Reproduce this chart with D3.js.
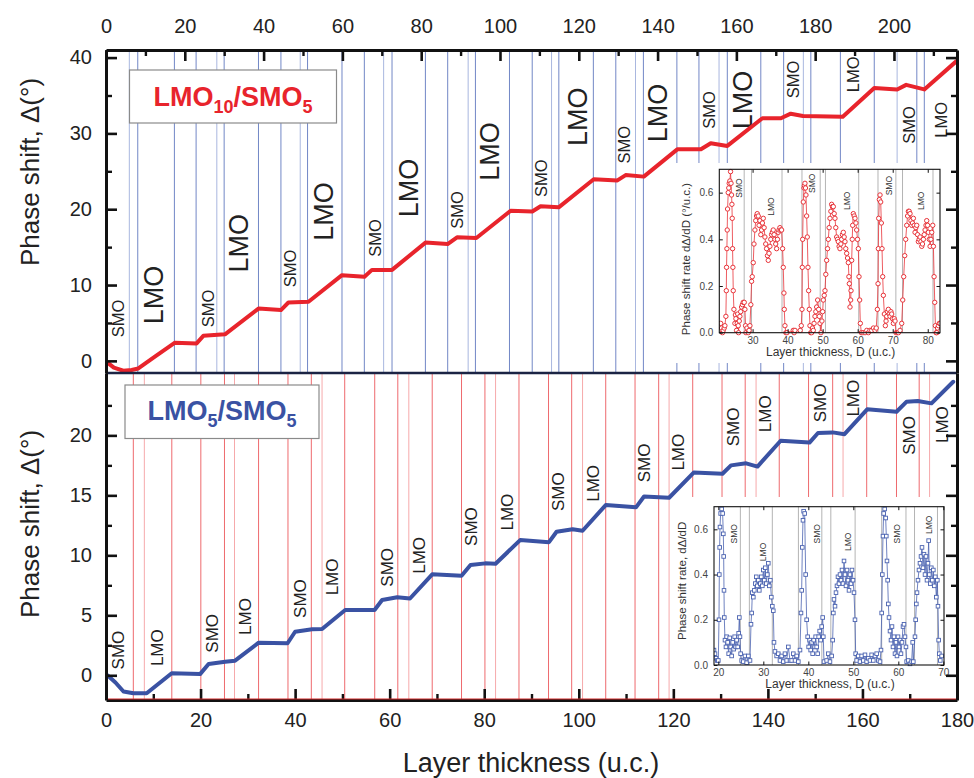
<!DOCTYPE html>
<html>
<head>
<meta charset="utf-8">
<script src="https://cdn.jsdelivr.net/npm/d3@7"></script>
<style>
  body { margin: 0; background: #fff; }
</style>
</head>
<body>
<div id="chart"></div>
<script>
const FONT = "'Liberation Sans', Arial, Helvetica, sans-serif";

// ---- main panels: phase shift vs. layer thickness ----
// top panel, LMO10/SMO5 (top axis units)
const topCurve = [
  [0.3, -0.2], [2.0, -0.9], [4.4, -1.3], [6.5, -1.2], [8.2, -1.0], [12.5, 0.6], [17.5, 2.4],
  [23.0, 2.3], [24.7, 3.3], [30.2, 3.5], [38.7, 6.9], [44.4, 6.7], [46.3, 7.7], [51.4, 7.8],
  [59.9, 11.3], [65.6, 11.1], [67.5, 12.0], [72.6, 12.0], [81.1, 15.6], [86.7, 15.4],
  [89.1, 16.3], [94.0, 16.2], [102.7, 19.8], [108.2, 19.7], [110.3, 20.4], [114.9, 20.25],
  [123.8, 23.95], [129.8, 23.8], [131.9, 24.5], [136.5, 24.3], [145.0, 27.9], [151.0, 27.9],
  [153.5, 28.7], [157.7, 28.35], [166.6, 32.0], [171.3, 32.0], [173.8, 32.6], [176.9, 32.3],
  [187.0, 32.2], [195.0, 36.0], [200.8, 35.8], [203.1, 36.4], [207.7, 35.8], [215.8, 39.5]
];
// bottom panel, LMO5/SMO5
const bottomCurve = [
  [0.3, 0.0], [2.0, -0.6], [3.7, -1.35], [5.8, -1.5], [8.6, -1.5], [13.9, 0.17], [19.9, 0.1],
  [21.7, 0.94], [25.2, 1.13], [27.3, 1.22], [32.3, 2.72], [38.4, 2.67], [40.0, 3.63],
  [43.6, 3.83], [45.7, 3.86], [50.6, 5.44], [56.8, 5.44], [58.4, 6.28], [61.6, 6.5],
  [64.3, 6.4], [69.0, 8.42], [75.2, 8.3], [77.1, 9.19], [80.2, 9.33], [82.4, 9.3],
  [87.6, 11.27], [93.7, 11.1], [95.3, 11.97], [98.7, 12.17], [100.8, 12.05], [105.7, 14.19],
  [112.1, 14.0], [113.8, 14.9], [119.1, 14.8], [124.3, 16.9], [130.4, 16.8], [132.2, 17.5],
  [135.4, 17.67], [137.8, 17.4], [142.7, 19.55], [148.8, 19.4], [150.6, 20.2], [153.7, 20.25],
  [156.2, 20.1], [161.0, 22.17], [167.2, 21.97], [169.3, 22.8], [171.7, 22.86], [174.6, 22.67],
  [179.2, 24.47]
];

// interface positions (vertical lines)
const topBounds = [5.92, 8.06, 17.36, 22.87, 28.13, 29.99, 38.70, 44.40, 49.30, 51.16, 59.90,
  65.57, 70.47, 72.60, 81.07, 86.73, 91.92, 93.77, 102.41, 108.18, 113.09, 114.94, 123.7,
  129.4, 134.4, 136.4, 144.9, 150.5, 155.6, 157.7, 166.2, 172.0, 177.0, 178.9, 186.4, 195.0,
  200.8, 205.8, 207.7];
const bottomBounds = [5.78, 8.11, 13.92, 20.06, 25.06, 27.18, 32.27, 38.49, 43.43, 45.70, 50.49,
  56.84, 61.72, 64.05, 69.0, 75.2, 80.15, 82.4, 87.35, 93.6, 98.5, 100.8, 105.7, 111.9, 116.9,
  119.1, 124.1, 130.3, 135.2, 137.5, 142.4, 148.6, 153.7, 155.9, 160.9, 167.2, 172.0, 174.2];

// layer annotations [text, x, y] in data units
const topLayerLabels = [
  ["SMO", 3.0, 5.6], ["LMO", 12.0, 8.7], ["SMO", 26.0, 6.9], ["LMO", 33.6, 15.5],
  ["SMO", 46.8, 12.2], ["LMO", 55.2, 19.7], ["SMO", 68.4, 16.2], ["LMO", 76.8, 22.8],
  ["SMO", 89.1, 19.9], ["LMO", 97.2, 27.6], ["SMO", 110.3, 24.1], ["LMO", 119.6, 32.2],
  ["SMO", 131.5, 28.5], ["LMO", 139.9, 32.7], ["SMO", 153.1, 33.1], ["LMO", 161.5, 34.4],
  ["SMO", 174.3, 37.1], ["LMO", 189.5, 37.8], ["SMO", 203.8, 31.1], ["LMO", 211.9, 31.8]
];
const topBigLabels = [1, 3, 5, 7, 9, 11, 13, 15];
const bottomLayerLabels = [
  ["SMO", 2.5, 2.1], ["LMO", 10.7, 2.3], ["SMO", 22.4, 3.5], ["LMO", 29.4, 4.9],
  ["SMO", 41.1, 6.4], ["LMO", 47.8, 8.2], ["SMO", 59.5, 9.0], ["LMO", 66.2, 10.0],
  ["SMO", 77.1, 12.4], ["LMO", 84.7, 13.6], ["SMO", 95.5, 15.3], ["LMO", 102.9, 16.0],
  ["SMO", 113.8, 17.7], ["LMO", 120.9, 18.6], ["SMO", 132.6, 20.7], ["LMO", 139.3, 21.8],
  ["SMO", 150.9, 22.7], ["LMO", 158.0, 23.1], ["SMO", 169.8, 20.0], ["LMO", 176.7, 20.9]
];

const topXTicks = [0, 20, 40, 60, 80, 100, 120, 140, 160, 180, 200];
const topXMinor = [10, 30, 50, 70, 90, 110, 130, 150, 170, 190, 210];
const bottomXTicks = [0, 20, 40, 60, 80, 100, 120, 140, 160, 180];
const bottomXMinor = [10, 30, 50, 70, 90, 110, 130, 150, 170];
const topYTicks = [0, 10, 20, 30, 40];
const topYMinor = [5, 15, 25, 35];
const bottomYTicks = [0, 5, 10, 15, 20];
const bottomYMinor = [2.5, 7.5, 12.5, 17.5, 22.5];

// ---- insets: phase shift rate ----
const topInsetRate = [
  [20.67,0.03],[20.9,0.04],[21.14,0.02],[21.4,0.0],[21.62,0.01],[21.9,0.02],[22.1,0.03],
  [22.38,0.07],[22.5,0.18],[22.57,0.28],[22.67,0.36],[22.76,0.44],[22.86,0.53],[23.05,0.60],
  [23.2,0.62],[23.33,0.64],[23.52,0.65],[23.71,0.69],[23.85,0.64],[24.0,0.59],[24.1,0.55],
  [24.19,0.49],[24.29,0.36],[24.38,0.28],[24.48,0.18],[24.67,0.10],[24.95,0.04],[25.1,0.076],
  [25.24,0.06],[25.43,0.01],[25.62,0.04],[25.75,0.08],[25.9,0.03],[26.0,0.0],[26.2,0.05],
  [26.38,0.07],[26.6,0.09],[26.86,0.11],[27.1,0.12],[27.33,0.13],[27.62,0.13],[27.81,0.10],
  [28.0,0.03],[28.1,0.0],[28.4,0.02],[28.76,0.0],[29.0,0.01],[29.24,0.03],[29.5,0.12],
  [29.71,0.22],[29.9,0.24],[30.19,0.3],[30.4,0.38],[30.67,0.44],[30.9,0.48],[31.14,0.5],
  [31.33,0.51],[31.62,0.50],[31.85,0.46],[32.1,0.48],[32.35,0.42],[32.57,0.44],[32.8,0.47],
  [33.05,0.49],[33.3,0.45],[33.52,0.41],[33.75,0.38],[34.0,0.36],[34.25,0.33],[34.48,0.31],
  [34.7,0.34],[34.95,0.37],[35.2,0.40],[35.43,0.42],[35.65,0.43],[35.9,0.44],[36.15,0.42],
  [36.38,0.40],[36.6,0.38],[36.86,0.36],[37.1,0.40],[37.33,0.43],[37.55,0.44],[37.81,0.45],
  [38.05,0.44],[38.29,0.44],[38.57,0.36],[38.76,0.28],[38.95,0.17],[39.05,0.10],[39.24,0.03],
  [39.52,0.0],[39.8,0.0],[41.62,0.01],[41.85,0.0],[42.1,0.01],[43.6,0.01],[43.9,0.03],
  [44.1,0.10],[44.19,0.28],[44.29,0.40],[44.48,0.56],[44.67,0.62],[44.8,0.63],[44.95,0.64],
  [45.1,0.62],[45.24,0.59],[45.43,0.50],[45.62,0.41],[45.81,0.28],[46.0,0.18],[46.19,0.10],
  [46.38,0.03],[46.6,0.0],[46.86,0.0],[47.1,0.02],[47.33,0.01],[47.55,0.04],[47.81,0.07],
  [48.05,0.09],[48.29,0.11],[48.57,0.14],[48.86,0.10],[49.05,0.07],[49.24,0.04],[49.52,0.0],
  [49.8,0.05],[50.0,0.09],[50.19,0.14],[50.45,0.16],[50.67,0.18],[50.9,0.25],[51.14,0.31],
  [51.4,0.36],[51.62,0.40],[51.85,0.45],[52.1,0.49],[52.35,0.52],[52.57,0.55],[52.8,0.54],
  [53.05,0.54],[53.3,0.51],[53.52,0.49],[53.75,0.45],[54.0,0.41],[54.25,0.40],[54.48,0.39],
  [54.7,0.37],[54.95,0.36],[55.2,0.38],[55.43,0.40],[55.65,0.42],[55.9,0.43],[56.15,0.41],
  [56.38,0.39],[56.6,0.36],[56.86,0.34],[57.1,0.32],[57.33,0.30],[57.5,0.24],[57.62,0.21],
  [57.81,0.11],[58.0,0.14],[58.1,0.18],[58.29,0.31],[58.45,0.40],[58.57,0.46],[58.76,0.51],
  [59.0,0.50],[59.24,0.49],[59.5,0.47],[59.71,0.44],[59.95,0.40],[60.19,0.36],[60.38,0.24],
  [60.57,0.14],[60.76,0.04],[61.05,0.0],[61.5,0.0],[62.1,0.0],[62.6,0.01],[63.05,0.0],
  [63.5,0.01],[64.0,0.01],[64.5,0.02],[64.95,0.01],[65.3,0.02],[65.62,0.10],[65.81,0.21],
  [65.9,0.36],[66.0,0.49],[66.19,0.57],[66.38,0.59],[66.57,0.56],[66.76,0.47],[66.95,0.36],
  [67.14,0.24],[67.33,0.16],[67.62,0.08],[67.9,0.03],[68.1,0.05],[68.29,0.07],[68.5,0.09],
  [68.76,0.10],[69.0,0.08],[69.24,0.07],[69.5,0.09],[69.71,0.08],[69.95,0.06],[70.19,0.04],
  [70.45,0.06],[70.67,0.05],[70.95,0.0],[71.3,0.0],[71.62,0.0],[72.1,0.01],[72.57,0.04],
  [72.86,0.14],[73.14,0.24],[73.43,0.33],[73.71,0.40],[74.0,0.46],[74.25,0.50],[74.48,0.52],
  [74.7,0.52],[74.95,0.51],[75.2,0.48],[75.43,0.46],[75.65,0.47],[75.9,0.49],[76.15,0.46],
  [76.38,0.43],[76.6,0.45],[76.86,0.46],[77.1,0.42],[77.33,0.39],[77.55,0.40],[77.81,0.41],
  [78.05,0.39],[78.29,0.37],[78.5,0.38],[78.76,0.40],[79.0,0.42],[79.24,0.44],[79.5,0.46],
  [79.71,0.48],[79.95,0.46],[80.19,0.43],[80.45,0.40],[80.67,0.37],[80.9,0.40],[81.14,0.43],
  [81.43,0.46],[81.62,0.37],[81.81,0.24],[82.0,0.13],[82.19,0.03],[82.4,0.0],[82.57,0.0],
  [82.8,0.02],[83.05,0.03],[83.3,0.04],[83.52,0.04]
];
const bottomInsetRate = [
  [19.04,0.066],[19.26,0.05],[19.48,0.03],[19.78,0.02],[20.0,0.02],[20.15,0.2],[20.22,0.4],
  [20.3,0.52],[20.37,0.61],[20.52,0.67],[20.74,0.69],[20.96,0.67],[21.11,0.58],[21.19,0.48],
  [21.26,0.33],[21.33,0.21],[21.48,0.11],[21.7,0.08],[21.85,0.125],[22.07,0.1],[22.3,0.05],
  [22.52,0.12],[22.74,0.08],[22.96,0.04],[23.19,0.1],[23.41,0.07],[23.63,0.125],[23.85,0.08],
  [24.07,0.11],[24.3,0.08],[24.52,0.14],[24.67,0.21],[24.81,0.125],[24.96,0.05],[25.19,0.02],
  [25.56,0.015],[25.93,0.04],[26.3,0.01],[26.67,0.04],[27.04,0.02],[27.26,0.18],[27.41,0.23],
  [27.56,0.32],[27.78,0.3],[28.0,0.33],[28.22,0.36],[28.44,0.39],[28.67,0.35],[28.89,0.375],
  [29.11,0.33],[29.33,0.36],[29.56,0.39],[29.78,0.35],[30.0,0.42],[30.22,0.375],[30.44,0.43],
  [30.67,0.36],[30.89,0.4],[31.11,0.45],[31.33,0.35],[31.56,0.375],[31.78,0.3],[32.0,0.26],
  [32.22,0.24],[32.37,0.1],[32.59,0.06],[32.96,0.04],[33.33,0.05],[33.7,0.02],[34.07,0.04],
  [34.44,0.015],[34.81,0.05],[35.19,0.02],[35.56,0.08],[35.93,0.02],[36.3,0.02],[36.67,0.05],
  [37.04,0.02],[37.41,0.04],[37.78,0.015],[38.15,0.066],[38.37,0.23],[38.52,0.33],[38.67,0.52],
  [38.81,0.64],[38.96,0.68],[39.19,0.67],[39.41,0.4],[39.63,0.2],[39.85,0.125],[40.07,0.08],
  [40.3,0.11],[40.52,0.066],[40.74,0.1],[40.96,0.05],[41.19,0.11],[41.41,0.08],[41.63,0.125],
  [41.85,0.08],[42.07,0.05],[42.3,0.125],[42.52,0.15],[42.74,0.11],[42.96,0.17],[43.19,0.21],
  [43.33,0.125],[43.48,0.015],[44.07,0.02],[44.44,0.05],[44.81,0.015],[45.19,0.04],[45.41,0.11],
  [45.56,0.23],[45.7,0.29],[45.93,0.26],[46.15,0.32],[46.37,0.35],[46.59,0.39],[46.81,0.36],
  [47.04,0.4],[47.26,0.375],[47.48,0.42],[47.7,0.36],[47.93,0.46],[48.15,0.4],[48.37,0.35],
  [48.59,0.42],[48.81,0.375],[49.04,0.33],[49.26,0.4],[49.48,0.36],[49.7,0.42],[49.93,0.375],
  [50.15,0.32],[50.37,0.2],[50.52,0.05],[50.74,0.02],[51.11,0.04],[51.48,0.015],[51.85,0.04],
  [52.22,0.02],[52.59,0.045],[52.96,0.015],[53.33,0.03],[53.7,0.02],[54.07,0.045],[54.44,0.02],
  [54.81,0.04],[55.19,0.05],[55.56,0.02],[55.93,0.015],[56.15,0.066],[56.3,0.23],[56.44,0.4],
  [56.59,0.57],[56.74,0.67],[56.96,0.69],[57.19,0.65],[57.33,0.57],[57.48,0.46],[57.63,0.375],
  [57.78,0.27],[57.93,0.21],[58.15,0.15],[58.37,0.11],[58.59,0.17],[58.81,0.08],[59.04,0.125],
  [59.26,0.05],[59.48,0.1],[59.7,0.04],[59.93,0.125],[60.15,0.08],[60.37,0.11],[60.59,0.05],
  [60.81,0.1],[61.04,0.17],[61.26,0.18],[61.48,0.125],[61.7,0.08],[61.85,0.015],[62.22,0.02],
  [62.59,0.005],[62.96,0.015],[63.19,0.1],[63.33,0.015],[63.7,0.125],[63.85,0.2],[64.0,0.27],
  [64.15,0.32],[64.37,0.375],[64.59,0.42],[64.81,0.45],[65.04,0.48],[65.26,0.52],[65.48,0.43],
  [65.7,0.49],[65.93,0.4],[66.15,0.48],[66.37,0.375],[66.59,0.45],[66.74,0.55],[66.89,0.4],
  [67.11,0.36],[67.33,0.43],[67.56,0.375],[67.78,0.42],[68.0,0.35],[68.22,0.39],[68.44,0.3],
  [68.67,0.375],[68.81,0.26],[68.96,0.11],[69.11,0.05],[69.33,0.02],[69.63,0.04]
];
const topInsetBounds = [27.6, 29.7, 38.4, 44.1, 49.3, 50.8, 60.3, 65.8, 70.9, 72.8, 81.5];
const bottomInsetBounds = [24.9, 26.9, 32.0, 37.8, 43.0, 45.0, 50.4, 56.3, 61.7, 63.6, 68.7];
const topInsetLabels = [["SMO", 26.1, 0.62], ["LMO", 35.1, 0.54], ["SMO", 46.9, 0.64],
  ["LMO", 56.9, 0.565], ["SMO", 68.8, 0.63], ["LMO", 78.1, 0.565]];
const bottomInsetLabels = [["SMO", 23.5, 0.58], ["LMO", 30.0, 0.50], ["SMO", 41.9, 0.58],
  ["LMO", 48.7, 0.545], ["SMO", 59.8, 0.58], ["LMO", 66.9, 0.62]];

const RED = "#e8242c";
const BLUE = "#3a52a3";

const svg = d3.select("#chart").append("svg")
  .attr("width", 974).attr("height", 778)
  .style("font-family", FONT);

const xTop = d3.scaleLinear().domain([0, 216]).range([106, 957]);
const xBot = d3.scaleLinear().domain([0, 180]).range([106, 957]);
const yTop = d3.scaleLinear().domain([-1.6, 41]).range([373, 50]);
const yBot = d3.scaleLinear().domain([-2.06, 25.2]).range([700, 373]);

// interface lines
svg.append("g").selectAll("line").data(topBounds).enter().append("line")
  .attr("x1", d => xTop(d)).attr("x2", d => xTop(d))
  .attr("y1", 50).attr("y2", 373)
  .attr("stroke", (d, i) => i % 4 === 0 ? "#a9b7df" : "#7287c6")
  .attr("stroke-width", 1);
svg.append("g").selectAll("line").data(bottomBounds).enter().append("line")
  .attr("x1", d => xBot(d)).attr("x2", d => xBot(d))
  .attr("y1", 373).attr("y2", 700)
  .attr("stroke", (d, i) => i % 4 === 1 ? "#f6a9ab" : "#ee6a6e")
  .attr("stroke-width", 1);

// white backgrounds behind the insets
svg.append("rect").attr("x", 670).attr("y", 163).attr("width", 284).attr("height", 200).attr("fill", "#fff");
svg.append("rect").attr("x", 672).attr("y", 497).attr("width", 282).attr("height", 202).attr("fill", "#fff");

// layer labels
function layerLabels(data, x, y, sizeOf) {
  svg.append("g").selectAll("text").data(data).enter().append("text")
    .attr("transform", d => `translate(${x(d[1])},${y(d[2])}) rotate(-90)`)
    .attr("text-anchor", "middle")
    .attr("dy", "0.36em")
    .attr("font-size", (d, i) => sizeOf(i))
    .attr("fill", "#222")
    .text(d => d[0]);
}
layerLabels(topLayerLabels, xTop, yTop, i => topBigLabels.includes(i) ? 27 : 16.5);
layerLabels(bottomLayerLabels, xBot, yBot, () => 17);

// curves
const line = (x, y) => d3.line().x(d => x(d[0])).y(d => y(d[1]));
svg.append("path").datum(topCurve)
  .attr("d", line(xTop, yTop))
  .attr("fill", "none").attr("stroke", RED).attr("stroke-width", 4)
  .attr("stroke-linejoin", "round").attr("stroke-linecap", "round");
svg.append("path").datum(bottomCurve)
  .attr("d", line(xBot, yBot))
  .attr("fill", "none").attr("stroke", BLUE).attr("stroke-width", 4)
  .attr("stroke-linejoin", "round").attr("stroke-linecap", "round");

// legends
function legend(x, y, w, h, cx, by, sub1, color) {
  svg.append("rect").attr("x", x).attr("y", y).attr("width", w).attr("height", h)
    .attr("fill", "#fff").attr("stroke", "#8a8a8a").attr("stroke-width", 1.2);
  const t = svg.append("text").attr("x", cx).attr("y", by)
    .attr("text-anchor", "middle").attr("font-weight", "bold")
    .attr("font-size", 27).attr("fill", color);
  t.append("tspan").text("LMO");
  t.append("tspan").attr("dy", 7).attr("font-size", 18).text(sub1);
  t.append("tspan").attr("dy", -7).text("/SMO");
  t.append("tspan").attr("dy", 7).attr("font-size", 18).text("5");
}
legend(129.5, 70, 207, 53, 233, 106, "10", RED);
legend(125, 385, 194, 53.5, 222, 420, "5", BLUE);

// ---- insets ----
function inset(cfg) {
  const x = d3.scaleLinear().domain(cfg.xDomain).range([cfg.left, cfg.right]);
  const y = d3.scaleLinear().domain([0, 0.7]).range([cfg.bottom, cfg.top]);
  const g = svg.append("g");
  const clipId = cfg.id + "-clip";
  g.append("clipPath").attr("id", clipId).append("rect")
    .attr("x", cfg.left).attr("y", cfg.top - 3)
    .attr("width", cfg.right - cfg.left).attr("height", cfg.bottom - cfg.top + 6);

  g.append("g").selectAll("line").data(cfg.bounds).enter().append("line")
    .attr("x1", d => x(d)).attr("x2", d => x(d))
    .attr("y1", cfg.top).attr("y2", cfg.bottom)
    .attr("stroke", "#b4b4b4").attr("stroke-width", 1);

  g.append("g").selectAll("text").data(cfg.labels).enter().append("text")
    .attr("transform", d => `translate(${x(d[1])},${y(d[2])}) rotate(-90)`)
    .attr("text-anchor", "middle").attr("dy", "0.36em")
    .attr("font-size", 8.5).attr("fill", "#333")
    .text(d => d[0]);

  const plot = g.append("g").attr("clip-path", `url(#${clipId})`);
  plot.append("path").datum(cfg.data)
    .attr("d", line(x, y))
    .attr("fill", "none").attr("stroke", cfg.color).attr("stroke-width", 0.8);
  if (cfg.marker === "circle") {
    plot.selectAll("circle").data(cfg.data).enter().append("circle")
      .attr("cx", d => x(d[0])).attr("cy", d => y(d[1])).attr("r", 2.2)
      .attr("fill", "#fff").attr("stroke", cfg.color).attr("stroke-width", 1);
  } else {
    plot.selectAll("rect").data(cfg.data).enter().append("rect")
      .attr("x", d => x(d[0]) - 1.8).attr("y", d => y(d[1]) - 1.8)
      .attr("width", 3.6).attr("height", 3.6)
      .attr("fill", "#fff").attr("stroke", cfg.color).attr("stroke-width", 0.9);
  }

  const styleSmall = sel => {
    sel.select(".domain").remove();
    sel.selectAll(".tick line").attr("stroke", "#111").attr("stroke-width", 1);
    sel.selectAll(".tick text").attr("font-family", FONT).attr("font-size", 10).attr("fill", "#444");
  };
  g.append("g").attr("transform", `translate(0,${cfg.bottom})`)
    .call(d3.axisBottom(x).tickValues(cfg.xTicks).tickSize(-3.5).tickPadding(4)).call(styleSmall);
  g.append("g").attr("transform", `translate(0,${cfg.top})`)
    .call(d3.axisTop(x).tickValues(cfg.xTicks).tickSize(-3.5).tickFormat("")).call(styleSmall);
  g.append("g").attr("transform", `translate(${cfg.left},0)`)
    .call(d3.axisLeft(y).tickValues([0, 0.2, 0.4, 0.6]).tickFormat(d3.format(".1f"))
      .tickSize(-3.5).tickPadding(6)).call(styleSmall);
  g.append("g").attr("transform", `translate(${cfg.right},0)`)
    .call(d3.axisRight(y).tickValues([0, 0.2, 0.4, 0.6]).tickSize(-3.5).tickFormat("")).call(styleSmall);
  g.append("rect").attr("x", cfg.left).attr("y", cfg.top)
    .attr("width", cfg.right - cfg.left).attr("height", cfg.bottom - cfg.top)
    .attr("fill", "none").attr("stroke", "#111").attr("stroke-width", 1.1);

  g.append("text")
    .attr("transform", `translate(${cfg.yLabelX},${(cfg.top + cfg.bottom) / 2 + cfg.yLabelShift}) rotate(-90)`)
    .attr("text-anchor", "middle").attr("font-size", 11.5).attr("fill", "#333")
    .text(cfg.yLabel);
  g.append("text")
    .attr("x", (cfg.left + cfg.right) / 2 + 1).attr("y", cfg.bottom + 23)
    .attr("text-anchor", "middle").attr("font-size", 12).attr("fill", "#333")
    .text("Layer thickness, D (u.c.)");
}

inset({
  id: "ti", xDomain: [20.5, 83.5], left: 719.3, right: 940, top: 169.3, bottom: 332.7,
  data: topInsetRate, bounds: topInsetBounds, labels: topInsetLabels, color: "#e8343a",
  marker: "circle", xTicks: [30, 40, 50, 60, 70, 80],
  yLabel: "Phase shift rate d\u0394/dD (\u00b0/u.c.)", yLabelX: 690, yLabelShift: 8
});
inset({
  id: "bi", xDomain: [19.04, 70.15], left: 714, right: 944, top: 506.7, bottom: 665,
  data: bottomInsetRate, bounds: bottomInsetBounds, labels: bottomInsetLabels, color: "#4a62b0",
  marker: "square", xTicks: [20, 30, 40, 50, 60, 70],
  yLabel: "Phase shift rate, d\u0394/dD", yLabelX: 686, yLabelShift: -5
});

// ---- main axes ----
function styleAxis(sel, labels) {
  sel.select(".domain").attr("stroke", "#111").attr("stroke-width", 3);
  sel.selectAll(".tick line").attr("stroke", "#111").attr("stroke-width", 2.6);
  if (labels) sel.selectAll(".tick text").attr("font-family", FONT).attr("font-size", 20).attr("fill", "#222");
}
function minor(sel) {
  sel.select(".domain").remove();
  sel.selectAll(".tick line").attr("stroke", "#111").attr("stroke-width", 2.4);
}

// top x axis
svg.append("g").attr("transform", "translate(0,50)")
  .call(d3.axisTop(xTop).tickValues(topXTicks).tickSize(-11).tickSizeOuter(0).tickPadding(17))
  .call(styleAxis, true);
svg.append("g").attr("transform", "translate(0,50)")
  .call(d3.axisTop(xTop).tickValues(topXMinor).tickSize(-6).tickFormat("")).call(minor);

// divider between the panels
svg.append("line").attr("x1", 106).attr("x2", 957).attr("y1", 373).attr("y2", 373)
  .attr("stroke", "#1b2444").attr("stroke-width", 2.4);

// bottom x axis
svg.append("g").attr("transform", "translate(0,700)")
  .call(d3.axisBottom(xBot).tickValues(bottomXTicks).tickSize(-11).tickSizeOuter(0).tickPadding(13))
  .call(styleAxis, true);
svg.append("g").attr("transform", "translate(0,700)")
  .call(d3.axisBottom(xBot).tickValues(bottomXMinor).tickSize(-6).tickFormat("")).call(minor);
svg.append("line").attr("x1", 106).attr("x2", 957).attr("y1", 699).attr("y2", 699)
  .attr("stroke", "#d42a2a").attr("stroke-width", 1.2);

// left / right axes
[[yTop, topYTicks, topYMinor], [yBot, bottomYTicks, bottomYMinor]].forEach(([y, major, min]) => {
  svg.append("g").attr("transform", "translate(106,0)")
    .call(d3.axisLeft(y).tickValues(major).tickSize(-11).tickSizeOuter(0).tickPadding(14))
    .call(styleAxis, true);
  svg.append("g").attr("transform", "translate(106,0)")
    .call(d3.axisLeft(y).tickValues(min).tickSize(-6).tickFormat("")).call(minor);
  svg.append("g").attr("transform", "translate(957,0)")
    .call(d3.axisRight(y).tickValues(major).tickSize(-11).tickSizeOuter(0).tickFormat(""))
    .call(styleAxis, false);
  svg.append("g").attr("transform", "translate(957,0)")
    .call(d3.axisRight(y).tickValues(min).tickSize(-6).tickFormat("")).call(minor);
});

// axis titles
svg.append("text")
  .attr("transform", "translate(39,172) rotate(-90)")
  .attr("text-anchor", "middle").attr("font-size", 26).attr("fill", "#222")
  .text("Phase shift, \u0394(\u00b0)");
svg.append("text")
  .attr("transform", "translate(39,524) rotate(-90)")
  .attr("text-anchor", "middle").attr("font-size", 26).attr("fill", "#222")
  .text("Phase shift, \u0394(\u00b0)");
svg.append("text")
  .attr("x", 531).attr("y", 772)
  .attr("text-anchor", "middle").attr("font-size", 27).attr("fill", "#222")
  .text("Layer thickness (u.c.)");
</script>
</body>
</html>
